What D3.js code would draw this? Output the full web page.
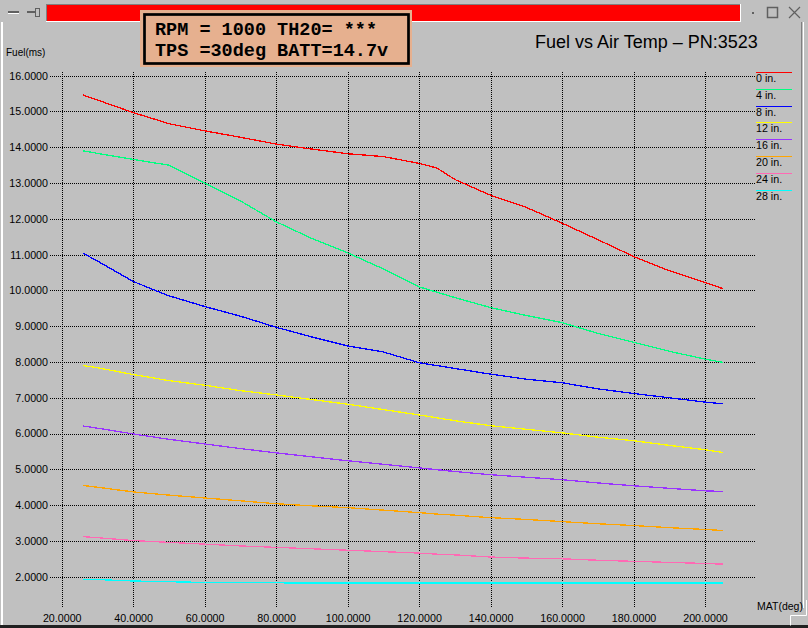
<!DOCTYPE html>
<html><head><meta charset="utf-8">
<script src="https://cdn.jsdelivr.net/npm/d3@7"></script>
<style>
html,body{margin:0;padding:0;background:#c0c0c0;}
svg{display:block;}
</style></head>
<body>
<svg id="chart" width="808" height="628"></svg>
<script>
// ---- data ----
const mat = [26, 30, 40, 50, 60, 70, 80, 90, 100, 110, 120, 125, 130, 140, 150, 160, 170, 180, 190, 200, 205];
const fuel0in  = [15.46, 15.32, 14.97, 14.66, 14.46, 14.28, 14.09, 13.95, 13.82, 13.74, 13.55, 13.42, 13.10, 12.66, 12.32, 11.88, 11.42, 10.95, 10.55, 10.22, 10.05];
const fuel4in  = [13.90, 13.83, 13.66, 13.50, 13.00, 12.50, 11.92, 11.45, 11.05, 10.60, 10.10, 9.95, 9.80, 9.52, 9.30, 9.10, 8.80, 8.55, 8.30, 8.08, 7.99];
const fuel8in  = [11.04, 10.82, 10.25, 9.85, 9.55, 9.28, 8.97, 8.70, 8.45, 8.28, 7.98, 7.90, 7.82, 7.66, 7.52, 7.42, 7.25, 7.12, 7.00, 6.88, 6.83];
const fuel12in = [7.90, 7.84, 7.65, 7.48, 7.35, 7.20, 7.08, 6.95, 6.82, 6.67, 6.52, 6.44, 6.36, 6.22, 6.12, 6.02, 5.90, 5.80, 5.67, 5.55, 5.47];
const fuel16in = [6.21, 6.15, 5.99, 5.84, 5.71, 5.58, 5.46, 5.35, 5.24, 5.14, 5.04, 4.99, 4.94, 4.85, 4.78, 4.71, 4.62, 4.54, 4.47, 4.40, 4.38];
const fuel20in = [4.55, 4.50, 4.37, 4.28, 4.20, 4.12, 4.04, 3.98, 3.93, 3.86, 3.79, 3.75, 3.72, 3.65, 3.60, 3.54, 3.48, 3.43, 3.37, 3.32, 3.29];
const fuel24in = [3.12, 3.09, 3.01, 2.96, 2.91, 2.86, 2.82, 2.78, 2.74, 2.70, 2.66, 2.63, 2.61, 2.55, 2.52, 2.50, 2.46, 2.43, 2.40, 2.37, 2.35];
const fuel28in = [1.93, 1.92, 1.88, 1.86, 1.84, 1.83, 1.83, 1.82, 1.82, 1.82, 1.82, 1.82, 1.82, 1.82, 1.82, 1.82, 1.82, 1.82, 1.82, 1.82, 1.82];
const seriesNames = ["0 in.", "4 in.", "8 in.", "12 in.", "16 in.", "20 in.", "24 in.", "28 in."];
const seriesColors = ["#ff0000", "#00ff80", "#0000ff", "#ffff00", "#9933ff", "#ffa500", "#ff69b4", "#00ffff"];
const xTicks = [20, 40, 60, 80, 100, 120, 140, 160, 180, 200];
const yTicks = [2, 3, 4, 5, 6, 7, 8, 9, 10, 11, 12, 13, 14, 15, 16];
const infoLines = ["RPM = 1000 TH20= ***", "TPS =30deg BATT=14.7v"];
const title = "Fuel vs Air Temp \u2013 PN:3523";
const yLabel = "Fuel(ms)";
const xLabel = "MAT(deg)";

const allSeries = [fuel0in, fuel4in, fuel8in, fuel12in, fuel16in, fuel20in, fuel24in, fuel28in];

const SANS = "'Liberation Sans', Arial, sans-serif";
const MONO = "'Liberation Mono', 'Courier New', monospace";

const svg = d3.select("#chart");
const W = 808, H = 628;

// background
svg.append("rect").attr("width", W).attr("height", H).attr("fill", "#c0c0c0");

// window frame
svg.append("rect").attr("x", 1).attr("y", 22).attr("width", 2).attr("height", 604).attr("fill", "#ffffff");
svg.append("rect").attr("x", 0).attr("y", 625).attr("width", W).attr("height", 3).attr("fill", "#202020");
svg.append("rect").attr("x", 801).attr("y", 22).attr("width", 1).attr("height", 586).attr("fill", "#808080");
svg.append("rect").attr("x", 803).attr("y", 22).attr("width", 1).attr("height", 586).attr("fill", "#ffffff");

// title bar
svg.append("rect").attr("x", 8).attr("y", 11).attr("width", 11).attr("height", 2).attr("fill", "#606060");
svg.append("rect").attr("x", 8).attr("y", 13).attr("width", 11).attr("height", 1).attr("fill", "#ffffff");
svg.append("rect").attr("x", 27).attr("y", 11).attr("width", 9).attr("height", 2).attr("fill", "#606060");
svg.append("rect").attr("x", 35).attr("y", 8).attr("width", 4).attr("height", 8).attr("fill", "none").attr("stroke", "#606060").attr("stroke-width", 1).attr("shape-rendering", "crispEdges");
svg.append("rect").attr("x", 46).attr("y", 4).attr("width", 695).attr("height", 18).attr("fill", "#ffffff");
svg.append("rect").attr("x", 46).attr("y", 4).attr("width", 694).attr("height", 17).attr("fill", "#808080");
svg.append("rect").attr("x", 47).attr("y", 5).attr("width", 693).attr("height", 16).attr("fill", "#ff0000");
svg.append("rect").attr("x", 752).attr("y", 12).attr("width", 2).attr("height", 2).attr("fill", "#606060");
svg.append("rect").attr("x", 767.5).attr("y", 7.5).attr("width", 10).attr("height", 10).attr("fill", "none").attr("stroke", "#606060").attr("stroke-width", 1.5);
svg.append("path").attr("d", "M789,7L800,18M800,7L789,18").attr("stroke", "#606060").attr("stroke-width", 1.2);

// scales
const x = d3.scaleLinear().domain([20, 200]).range([61.7, 705]);
const y = d3.scaleLinear().domain([2, 16]).range([576.7, 75.7]);

// y axis with grid
const yAxis = svg.append("g").attr("transform", "translate(50,0)")
  .call(d3.axisLeft(y).tickValues(yTicks).tickSize(-705).tickPadding(2).tickFormat(d3.format(".4f")));
yAxis.select(".domain").remove();
yAxis.selectAll(".tick line").attr("stroke", "#000").attr("stroke-dasharray", "1,1").attr("shape-rendering", "crispEdges");
yAxis.selectAll(".tick text").style("font-family", SANS).style("font-size", "10.7px").attr("fill", "#000");

// x axis with grid
const xAxis = svg.append("g").attr("transform", "translate(0,607)")
  .call(d3.axisBottom(x).tickValues(xTicks).tickSize(-536).tickPadding(7).tickFormat(d3.format(".4f")));
xAxis.select(".domain").remove();
xAxis.selectAll(".tick line").attr("stroke", "#000").attr("stroke-dasharray", "1,1").attr("shape-rendering", "crispEdges");
xAxis.selectAll(".tick text").style("font-family", SANS).style("font-size", "10.7px").attr("fill", "#000");

// series lines
const line = d3.line().x((d, i) => x(mat[i])).y(d => y(d));
allSeries.forEach((s, k) => {
  svg.append("path").datum(s).attr("d", line)
    .attr("fill", "none").attr("stroke", seriesColors[k]).attr("stroke-width", 1.3)
    .attr("shape-rendering", "crispEdges");
});

// legend
const legend = svg.append("g");
seriesNames.forEach((n, i) => {
  const ly = Math.round(71.7 + i * 16.9) + 0.5;
  legend.append("line").attr("x1", 756).attr("x2", 792).attr("y1", ly).attr("y2", ly)
    .attr("stroke", seriesColors[i]).attr("stroke-width", 1.3).attr("shape-rendering", "crispEdges");
  legend.append("text").attr("x", 756).attr("y", ly + 9).style("font-family", SANS).style("font-size", "10.7px").attr("fill", "#000").text(n);
});

// axis labels
svg.append("text").attr("x", 6).attr("y", 56).style("font-family", SANS).style("font-size", "10px").attr("fill", "#000").text(yLabel);
svg.append("text").attr("x", 757).attr("y", 610).style("font-family", SANS).style("font-size", "10.5px").attr("fill", "#000").text(xLabel);

// resize grip
svg.append("path").attr("d", "M790.5,625.5V615.5H806.5V600").attr("fill", "none").attr("stroke", "#ffffff").attr("stroke-width", 1);

// title
svg.append("text").attr("x", 535).attr("y", 48).style("font-family", SANS).style("font-size", "18px").attr("fill", "#000").text(title);

// info box
svg.append("rect").attr("x", 140).attr("y", 10).attr("width", 272).attr("height", 57).attr("fill", "#e6b08f");
svg.append("rect").attr("x", 144.5).attr("y", 14.5).attr("width", 264).attr("height", 49).attr("fill", "none").attr("stroke", "#000").attr("stroke-width", 2.7);
infoLines.forEach((t, i) => {
  svg.append("text").attr("x", 155).attr("y", 35 + i * 21)
    .style("font-family", MONO).style("font-weight", "bold")
    .style("font-size", "18.5px").attr("fill", "#000").style("white-space", "pre").text(t);
});
</script>
</body></html>
